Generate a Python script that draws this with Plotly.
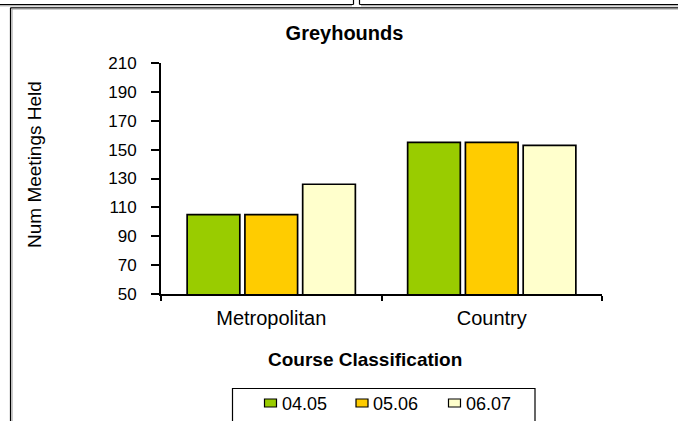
import plotly.graph_objects as go

# ---- data ----
categories = ["Metropolitan", "Country"]
series_names = ["04.05", "05.06", "06.07"]
values_0405 = [105, 155]
values_0506 = [105, 155]
values_0607 = [126, 153]
series_colors = ["#99CC00", "#FFCC00", "#FFFFCC"]
y_ticks = [50, 70, 90, 110, 130, 150, 170, 190, 210]

W, H = 678, 421
L, R, T, B = 161, 76, 63, 127   # plot area: x 161..602, y 63..294
PW, PH = W - L - R, H - T - B

def px(x):
    return (x - L) / PW

def py(y):
    return (H - B - y) / PH

FONT = "Liberation Sans, Arial, sans-serif"

fig = go.Figure()
for name, vals, col in zip(series_names, [values_0405, values_0506, values_0607], series_colors):
    fig.add_trace(go.Bar(
        x=categories, y=vals, name=name,
        marker=dict(color=col, line=dict(color="#000000", width=1.7)),
        showlegend=False,
    ))

shapes = []
# outer frame / cropped neighbouring chart borders
def line(x0, y0, x1, y1, color="#000000", w=1.2):
    shapes.append(dict(type="line", xref="paper", yref="paper",
                       x0=px(x0), y0=py(y0), x1=px(x1), y1=py(y1),
                       line=dict(color=color, width=w), layer="above"))

line(0, 4.5, 353.5, 4.5)
line(0, 5.8, 352, 5.8, "#999999", 1)
line(353.5, 0, 353.5, 4.5)
line(359.5, 0, 359.5, 4.5)
line(359.5, 4.5, 678, 4.5)
line(361, 5.8, 678, 5.8, "#999999", 1)
line(10.5, 7.8, 678, 7.8)
line(10.5, 7.8, 10.5, 421)
line(12, 9, 678, 9, "#999999", 1)
line(12, 9, 12, 421, "#999999", 1)

# legend (manual, Excel-style)
shapes.append(dict(type="rect", xref="paper", yref="paper",
                   x0=px(232.5), y0=py(388.5), x1=px(535), y1=py(440),
                   line=dict(color="#000000", width=1.2), fillcolor="rgba(0,0,0,0)", layer="above"))
annotations = []
leg_x = [264.5, 356, 448.5]
for name, col, lx in zip(series_names, series_colors, leg_x):
    shapes.append(dict(type="rect", xref="paper", yref="paper",
                       x0=px(lx), y0=py(399), x1=px(lx + 12), y1=py(407),
                       line=dict(color="#000000", width=1.2), fillcolor=col, layer="above"))
    annotations.append(dict(text=name, xref="paper", yref="paper",
                            x=px(lx + 15), y=py(404), xanchor="left", yanchor="middle",
                            showarrow=False, font=dict(family=FONT, size=18, color="#000000")))

# axis titles
annotations.append(dict(text="<b>Course Classification</b>", xref="paper", yref="paper",
                        x=px(365), y=py(359), xanchor="center", yanchor="middle",
                        showarrow=False, font=dict(family=FONT, size=19, color="#000000")))
annotations.append(dict(text="Num Meetings Held", xref="paper", yref="paper",
                        x=px(34), y=py(164), xanchor="center", yanchor="middle", textangle=-90,
                        showarrow=False, font=dict(family=FONT, size=19, color="#000000")))

fig.update_layout(
    width=W, height=H,
    margin=dict(l=L, r=R, t=T, b=B, autoexpand=False),
    paper_bgcolor="#FFFFFF", plot_bgcolor="#FFFFFF",
    barmode="group", bargap=0.214, bargroupgap=0.088,
    title=dict(text="<b>Greyhounds</b>", x=344.5 / W, xanchor="center",
               y=1 - 33 / H, yanchor="middle",
               font=dict(family=FONT, size=20, color="#000000")),
    font=dict(family=FONT, size=17, color="#000000"),
    shapes=shapes, annotations=annotations,
    xaxis=dict(showline=True, linecolor="#000000", linewidth=2,
               ticks="outside", tickson="boundaries", ticklen=5, tickwidth=2, tickcolor="#000000",
               showgrid=False, zeroline=False,
               tickfont=dict(family=FONT, size=20, color="#000000"),
               ticklabelstandoff=5),
    yaxis=dict(range=[50, 210], tickvals=y_ticks, ticktext=[str(v) for v in y_ticks],
               showline=True, linecolor="#000000", linewidth=2,
               ticks="outside", ticklen=8, tickwidth=2, tickcolor="#000000",
               showgrid=False, zeroline=False,
               tickfont=dict(family=FONT, size=17, color="#000000"),
               ticklabelstandoff=11),
)

fig.write_html("out.html", config={"displayModeBar": False},
               post_script="document.body.style.margin='0';document.body.style.overflow='hidden';")
